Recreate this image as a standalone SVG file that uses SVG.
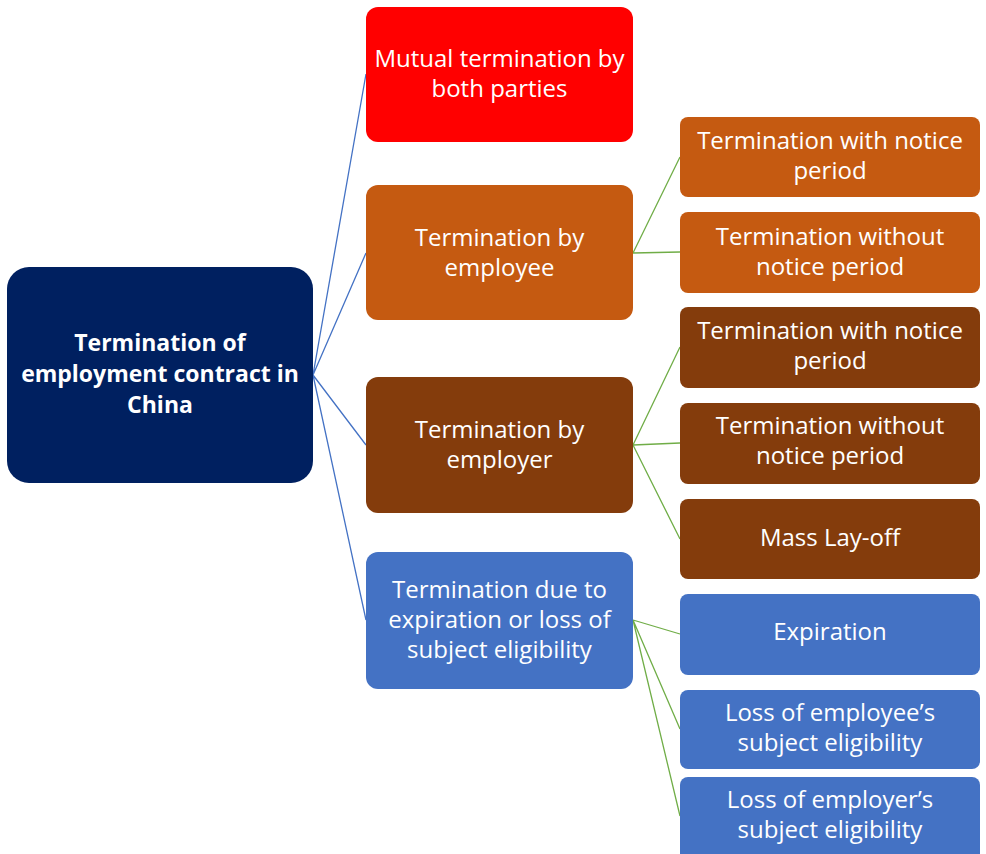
<svg xmlns="http://www.w3.org/2000/svg" width="986" height="854" viewBox="0 0 986 854">
<style>
.t{font-family:"Open Sans","Liberation Sans",sans-serif;font-size:24px;fill:#fff;text-anchor:middle}
.b{font-weight:bold;font-size:23px}
.c1{stroke:#4472C4;stroke-width:1.3;fill:none}
.c2{stroke:#70AD47;stroke-width:1.3;fill:none}
.red{fill:#FF0000}.or{fill:#C55A11}.br{fill:#843C0C}.bl{fill:#4472C4}.nv{fill:#002060}
</style>
<rect width="986" height="854" fill="#fff"/>
<g id="connectors">
<path class="c1" d="M313 375L366 74M313 375L366 253M313 375L366 445M313 375L366 620"/>
<path class="c2" d="M633 253L680 157M633 253L680 252"/>
<path class="c2" d="M633 445L680 347M633 445L680 443M633 445L680 539"/>
<path class="c2" d="M633 620L680 634M633 620L680 729M633 620L680 816"/>
</g>
<g id="root"><rect class="nv" x="7" y="267" width="306" height="216" rx="22"/>
<text class="t b" x="160" y="351">Termination of</text>
<text class="t b" x="160" y="382">employment contract in</text>
<text class="t b" x="160" y="413">China</text></g>
<g id="mutual"><rect class="red" x="366" y="7" width="267" height="135" rx="12"/>
<text class="t" x="499.5" y="67">Mutual termination by</text>
<text class="t" x="499.5" y="97">both parties</text></g>
<g id="employee"><rect class="or" x="366" y="185" width="267" height="135" rx="12"/>
<text class="t" x="499.5" y="246">Termination by</text>
<text class="t" x="499.5" y="276">employee</text></g>
<g id="employer"><rect class="br" x="366" y="377" width="267" height="136" rx="12"/>
<text class="t" x="499.5" y="438">Termination by</text>
<text class="t" x="499.5" y="468">employer</text></g>
<g id="expiry"><rect class="bl" x="366" y="552" width="267" height="137" rx="12"/>
<text class="t" x="499.5" y="598">Termination due to</text>
<text class="t" x="499.5" y="628">expiration or loss of</text>
<text class="t" x="499.5" y="658">subject eligibility</text></g>
<g id="ee-notice"><rect class="or" x="680" y="117" width="300" height="80" rx="8"/>
<text class="t" x="830" y="149">Termination with notice</text>
<text class="t" x="830" y="179">period</text></g>
<g id="ee-nonotice"><rect class="or" x="680" y="212" width="300" height="81" rx="8"/>
<text class="t" x="830" y="245">Termination without</text>
<text class="t" x="830" y="275">notice period</text></g>
<g id="er-notice"><rect class="br" x="680" y="307" width="300" height="81" rx="8"/>
<text class="t" x="830" y="339">Termination with notice</text>
<text class="t" x="830" y="369">period</text></g>
<g id="er-nonotice"><rect class="br" x="680" y="403" width="300" height="81" rx="8"/>
<text class="t" x="830" y="434">Termination without</text>
<text class="t" x="830" y="464">notice period</text></g>
<g id="layoff"><rect class="br" x="680" y="499" width="300" height="80" rx="8"/>
<text class="t" x="830" y="546">Mass Lay-off</text></g>
<g id="expiration"><rect class="bl" x="680" y="594" width="300" height="81" rx="8"/>
<text class="t" x="830" y="640">Expiration</text></g>
<g id="loss-ee"><rect class="bl" x="680" y="690" width="300" height="79" rx="8"/>
<text class="t" x="830" y="721">Loss of employee’s</text>
<text class="t" x="830" y="751">subject eligibility</text></g>
<g id="loss-er"><rect class="bl" x="680" y="777" width="300" height="84" rx="8"/>
<text class="t" x="830" y="808">Loss of employer’s</text>
<text class="t" x="830" y="838">subject eligibility</text></g>
</svg>
